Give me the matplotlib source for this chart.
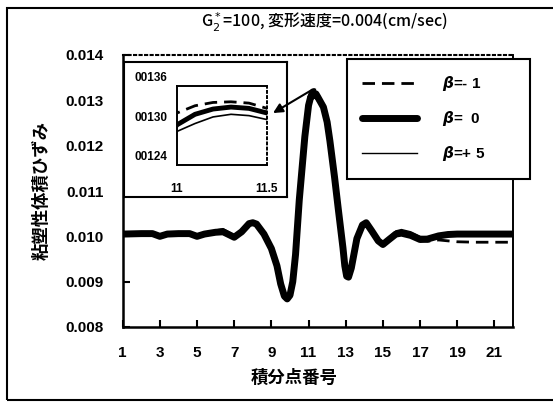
import matplotlib
matplotlib.use('Agg')
import matplotlib.pyplot as plt
from matplotlib.patches import Rectangle

plt.rcParams['font.family'] = ['Liberation Sans', 'Noto Sans CJK JP', 'DejaVu Sans']
plt.rcParams['mathtext.fontset'] = 'dejavusans'
JP = ['Noto Sans CJK JP', 'DejaVu Sans']

# 積分点番号 (読み取り位置)
x_pts = [1, 2, 2.6, 3.0, 3.4, 4, 4.6, 5.0, 5.4, 6.0,
         6.4, 6.8, 7.0, 7.4, 7.8, 8.0, 8.2, 8.6, 9.0, 9.3,
         9.5, 9.7, 9.85, 10.0, 10.15, 10.3, 10.5, 10.8, 11.0, 11.1,
         11.2, 11.3, 11.4, 11.5, 11.8, 12.0, 12.15, 12.4, 12.6, 12.85,
         12.95, 13.05, 13.15, 13.3, 13.6, 13.9, 14.1, 14.4, 14.75, 15.0,
         15.3, 15.7, 16.0, 16.5, 17.0, 17.4, 18.0, 18.5, 19, 20,
         21, 22]

# 粘塑性体積ひずみ  beta = 0
beta_0 = [0.01005, 0.01006, 0.01006, 0.01000, 0.01005, 0.01006, 0.01006, 0.01000, 0.01005, 0.01009,
          0.01010, 0.01002, 0.00998, 0.01010, 0.01028, 0.01030, 0.01027, 0.01005, 0.00973, 0.00935,
          0.00895, 0.00868, 0.00862, 0.00870, 0.00900, 0.00960, 0.01080, 0.01220, 0.01289, 0.01305,
          0.01313, 0.01316, 0.01314, 0.01307, 0.01285, 0.01252, 0.01210, 0.01130, 0.01060, 0.00975,
          0.00935, 0.00912, 0.00910, 0.00930, 0.00995, 0.01025, 0.01030, 0.01012, 0.00990, 0.00982,
          0.00992, 0.01005, 0.01007, 0.01002, 0.00993, 0.00994, 0.01001, 0.01004, 0.01005, 0.01005,
          0.01005, 0.01005]

# beta = -1
beta_m1 = [0.01005, 0.01006, 0.01006, 0.01000, 0.01005, 0.01006, 0.01006, 0.01000, 0.01005, 0.01009,
           0.01010, 0.01002, 0.00998, 0.01010, 0.01028, 0.01030, 0.01027, 0.01005, 0.00973, 0.00935,
           0.00895, 0.00868, 0.00862, 0.00870, 0.00900, 0.00960, 0.01080, 0.01220, 0.01307, 0.01318,
           0.01323, 0.01324, 0.01322, 0.01314, 0.01285, 0.01252, 0.01210, 0.01130, 0.01060, 0.00975,
           0.00935, 0.00912, 0.00910, 0.00930, 0.00995, 0.01025, 0.01030, 0.01012, 0.00990, 0.00982,
           0.00992, 0.01005, 0.01007, 0.01002, 0.00990, 0.00989, 0.00992, 0.00990, 0.00988, 0.00987,
           0.00987, 0.00987]

# beta = +5
beta_p5 = [0.01005, 0.01006, 0.01006, 0.01000, 0.01005, 0.01006, 0.01006, 0.01000, 0.01005, 0.01014,
           0.01017, 0.01008, 0.01003, 0.01010, 0.01028, 0.01030, 0.01027, 0.01005, 0.00973, 0.00935,
           0.00895, 0.00868, 0.00862, 0.00870, 0.00900, 0.00960, 0.01080, 0.01220, 0.01279, 0.01291,
           0.01301, 0.01305, 0.01303, 0.01297, 0.01285, 0.01252, 0.01210, 0.01130, 0.01060, 0.00975,
           0.00935, 0.00912, 0.00910, 0.00930, 0.00995, 0.01025, 0.01030, 0.01012, 0.00990, 0.00982,
           0.00998, 0.01012, 0.01015, 0.01010, 0.01000, 0.00999, 0.01001, 0.01004, 0.01005, 0.01005,
           0.01005, 0.01005]

series_labels = [r'$\boldsymbol{\beta}$=- 1', r'$\boldsymbol{\beta}$=  0', r'$\boldsymbol{\beta}$=+ 5']
x_ticks = [1, 3, 5, 7, 9, 11, 13, 15, 17, 19, 21]
y_ticks = [0.008, 0.009, 0.010, 0.011, 0.012, 0.013, 0.014]
inset_y_vals = [0.0136, 0.0130, 0.0124]
inset_y_labels = ['00136', '00130', '00124']
inset_x_ticks = [11, 11.5]
inset_x_labels = ['11', '11.5']

W, H = 553, 403
fig = plt.figure(figsize=(W / 100, H / 100), dpi=100)


def box(l, t, r, b):
    return [l / W, 1 - b / H, (r - l) / W, (b - t) / H]


# メインのグラフ
ax = fig.add_axes(box(122.7, 55, 513, 327))
ax.plot(x_pts, beta_0, color='black', lw=5.0, solid_capstyle='round',
        solid_joinstyle='round', zorder=3)
ax.plot(x_pts, beta_m1, color='black', lw=2.0, dashes=(4.5, 2.5), zorder=2)
ax.plot(x_pts, beta_p5, color='black', lw=1.0, zorder=4)
ax.set_xlim(1, 22)
ax.set_ylim(0.008, 0.014)
ax.set_xticks(x_ticks)
ax.set_yticks(y_ticks)
ax.set_yticklabels(['%.3f' % v for v in y_ticks])
ax.tick_params(direction='in', length=5, width=1.5, top=False, right=False,
               labelsize=11)
ax.tick_params(axis='x', pad=14)
ax.tick_params(axis='y', pad=14)
for lab in ax.get_xticklabels() + ax.get_yticklabels():
    lab.set_fontweight('bold')
for s in ['left', 'bottom']:
    ax.spines[s].set_linewidth(1.8)
ax.spines['right'].set_linewidth(1.4)
ax.spines['top'].set_linewidth(1.5)
ax.spines['top'].set_linestyle(':')

ax.set_xlabel('積分点番号', family=JP, fontweight='bold', fontsize=12.5)
ax.xaxis.set_label_coords((294 - 122.7) / 390.3, (327 - 369) / 272)
ax.set_ylabel('粘塑性体積ひずみ', family=JP, fontweight='bold', fontsize=12.5)
ax.yaxis.set_label_coords((42 - 122.7) / 390.3, 0.5)
ax.yaxis.label.set_va('center')

fig.text(325 / W, 1 - 22.7 / H, r'G$_2^*$=100, 変形速度=0.004(cm/sec)',
         ha='center', va='center', fontsize=11.5, family=JP, fontweight='medium')

# 拡大図
outer = fig.add_axes(box(124, 62, 287, 197), zorder=3)
outer.set_xticks([])
outer.set_yticks([])
for s in outer.spines.values():
    s.set_linewidth(1.5)

ins = fig.add_axes(box(177, 86, 267, 165), zorder=4)
ins.plot(x_pts, beta_0, color='black', lw=3.5)
ins.plot(x_pts, beta_m1, color='black', lw=2.0, dashes=(4.5, 2.5))
ins.plot(x_pts, beta_p5, color='black', lw=1.2)
ins.set_xlim(11, 11.5)
ins.set_ylim(0.01228, 0.01348)
ins.set_xticks(inset_x_ticks)
ins.set_xticklabels(inset_x_labels, fontweight='bold', fontsize=8.5)
ins.set_yticks([])
ins.tick_params(axis='x', length=0, pad=13)
for v, lab in zip(inset_y_vals, inset_y_labels):
    ins.text(-0.11, v, lab, transform=ins.get_yaxis_transform(), ha='right',
             va='center', fontsize=8.5, fontweight='bold', clip_on=False)
for s in ins.spines.values():
    s.set_linewidth(1.4)
ins.spines['right'].set_linestyle(':')

ins.annotate('', xy=(1.067, 0.658), xycoords='axes fraction',
             xytext=(11.18, 0.01323), textcoords=ax.transData,
             arrowprops=dict(arrowstyle='-|>', color='black', lw=1.5,
                             mutation_scale=14, shrinkA=0, shrinkB=0),
             annotation_clip=False)

# 凡例
handles = ax.get_lines()
order = [1, 0, 2]
leg = fig.legend([handles[i] for i in order], series_labels, loc='upper left',
                 bbox_to_anchor=(347 / W, 0, (530 - 347) / W, 1 - 59 / H),
                 mode='expand', borderaxespad=0, fancybox=False,
                 edgecolor='black', framealpha=1, handlelength=3.6,
                 handletextpad=1.6, labelspacing=1.05, borderpad=1.0,
                 prop=dict(weight='bold', size=11))
leg.get_frame().set_linewidth(1.5)
leg.set_zorder(5)

# 外枠
fig.add_artist(Rectangle((7 / W, 1 - 400 / H), (570 - 7) / W, (400 - 8) / H,
                         transform=fig.transFigure, fill=False, lw=1.5,
                         ec='black'))

fig.savefig('out.png', dpi=100)
